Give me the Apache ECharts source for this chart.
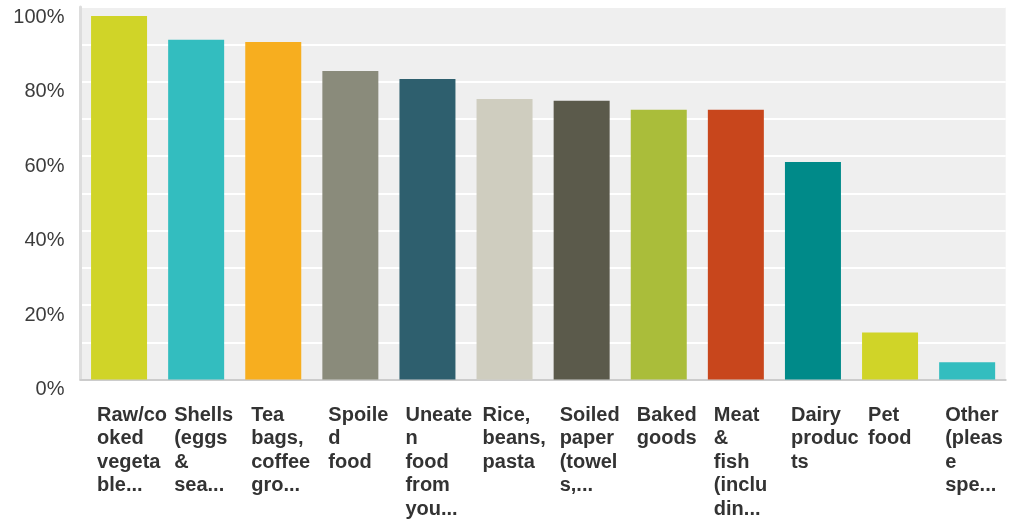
<!DOCTYPE html>
<html>
<head>
<meta charset="utf-8">
<script src="https://cdn.jsdelivr.net/npm/echarts@6/dist/echarts.min.js"></script>
<style>
html,body{margin:0;padding:0;background:#fff;}
#c{width:1011px;height:523px;}
</style>
</head>
<body>
<div id="c"></div>
<script>
const categories = [
  "Raw/co\noked\nvegeta\nble...",
  "Shells\n(eggs\n&\nsea...",
  "Tea\nbags,\ncoffee\ngro...",
  "Spoile\nd\nfood",
  "Uneate\nn\nfood\nfrom\nyou...",
  "Rice,\nbeans,\npasta",
  "Soiled\npaper\n(towel\ns,...",
  "Baked\ngoods",
  "Meat\n&\nfish\n(inclu\ndin...",
  "Dairy\nproduc\nts",
  "Pet\nfood",
  "Other\n(pleas\ne\nspe..."
];
const values = [97.6, 91.2, 90.6, 82.8, 80.7, 75.3, 74.8, 72.4, 72.4, 58.4, 12.6, 4.6];
const barColors = ["#d0d428", "#33bdbf", "#f7ae1f", "#8a8b7b", "#2e5f6e", "#cfcdbf", "#5b5a4b", "#aabd3a", "#c8461c", "#008a89", "#d0d428", "#33bdbf"];
const yTickLabels = ["0%", "20%", "40%", "60%", "80%", "100%"];

const chart = echarts.init(document.getElementById('c'), null, {renderer: 'canvas'});
chart.setOption({
  animation: false,
  backgroundColor: '#ffffff',
  grid: {
    left: 80.5, right: 5.3, top: 7, bottom: 143.5,
    show: true, backgroundColor: '#efefef', borderWidth: 0
  },
  xAxis: {
    type: 'category',
    data: categories,
    axisLine: {show: true, lineStyle: {color: '#cccccc', width: 2}},
    axisTick: {show: false},
    splitLine: {show: false},
    axisLabel: {
      interval: 0,
      margin: 24,
      width: 44,
      align: 'center',
      verticalAlign: 'top',
      formatter: function (v) {
        return v.split('\n').map(function (s) { return '{a|' + s + '}'; }).join('\n');
      },
      rich: {
        a: {
          align: 'left',
          fontFamily: 'Liberation Sans, Arial, sans-serif',
          fontWeight: 'bold',
          fontSize: 20,
          lineHeight: 23.5,
          color: '#333333'
        }
      }
    }
  },
  yAxis: {
    type: 'value',
    min: 0, max: 100, interval: 10,
    axisLine: {show: true, lineStyle: {color: '#dddddd', width: 3}},
    axisTick: {show: false},
    splitLine: {show: true, lineStyle: {color: '#ffffff', width: 2}},
    axisLabel: {
      margin: 16,
      verticalAlign: 'top',
      lineHeight: 20,
      fontFamily: 'Liberation Sans, Arial, sans-serif',
      fontSize: 20,
      color: '#3c3c3c',
      formatter: function (v) {
        if (v % 20 !== 0) return '';
        return yTickLabels[v / 20];
      }
    }
  },
  series: [{
    type: 'bar',
    data: values.map(function (v, i) { return {value: v, itemStyle: {color: barColors[i]}}; }),
    barWidth: 56,
    z: 1
  }]
});
</script>
</body>
</html>
